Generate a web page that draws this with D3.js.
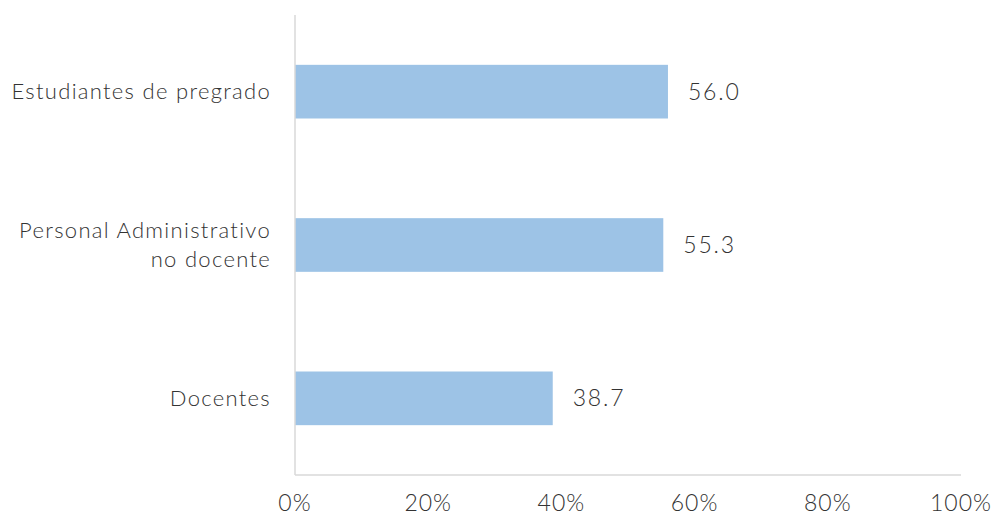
<!DOCTYPE html>
<html>
<head>
<meta charset="utf-8">
<script src="https://cdn.jsdelivr.net/npm/d3@7"></script>
<style>
  body { margin: 0; background: #fff; }
  text { font-family: Lato, "Open Sans", sans-serif; font-weight: 300; fill: #333; }
</style>
</head>
<body>
<svg id="chart" width="1001" height="516"></svg>
<script>
// data
const categories = [["Estudiantes de pregrado"], ["Personal Administrativo", "no docente"], ["Docentes"]];
const values = [56.0, 55.3, 38.7];
const ticks = [0, 20, 40, 60, 80, 100];

const margin = { top: 15, right: 40, bottom: 41, left: 295 };
const width = 1001, height = 516;

const svg = d3.select("#chart");

const x = d3.scaleLinear().domain([0, 100]).range([margin.left, 961]);
const y = d3.scaleBand()
    .domain(d3.range(values.length))
    .range([margin.top, height - margin.bottom])
    .paddingInner(0.65)
    .paddingOuter(0.325);

// bars
svg.selectAll("rect.bar")
    .data(values)
    .enter()
    .append("rect")
    .attr("class", "bar")
    .attr("x", x(0))
    .attr("y", (d, i) => y(i))
    .attr("width", d => x(d) - x(0))
    .attr("height", y.bandwidth())
    .attr("fill", "#9DC3E6");

// value labels
svg.selectAll("text.val")
    .data(values)
    .enter()
    .append("text")
    .attr("class", "val")
    .attr("x", d => x(d) + 20)
    .attr("y", (d, i) => y(i) + y.bandwidth() / 2)
    .attr("dy", "0.35em")
    .style("font-size", "23px")
    .style("letter-spacing", "1.8px")
    .text(d => d.toFixed(1));

// category labels
const cat = svg.selectAll("text.cat")
    .data(categories)
    .enter()
    .append("text")
    .attr("class", "cat")
    .attr("text-anchor", "end")
    .attr("x", margin.left - 24)
    .attr("y", (d, i) => y(i) + y.bandwidth() / 2)
    .style("font-size", "22px")
    .style("letter-spacing", "1.3px");

cat.selectAll("tspan")
    .data(d => d.map((t, j) => ({ t, j, n: d.length })))
    .enter()
    .append("tspan")
    .attr("x", margin.left - 24)
    .attr("dy", d => d.j === 0 ? `${0.35 - (d.n - 1) * 0.65}em` : "1.3em")
    .text(d => d.t);

// axes lines
svg.append("line")
    .attr("x1", x(0)).attr("x2", x(0))
    .attr("y1", margin.top).attr("y2", height - margin.bottom)
    .attr("stroke", "#d9d9d9").attr("stroke-width", 1.5);

svg.append("line")
    .attr("x1", x(0)).attr("x2", x(100))
    .attr("y1", height - margin.bottom).attr("y2", height - margin.bottom)
    .attr("stroke", "#d9d9d9").attr("stroke-width", 1.5);

// tick labels
svg.selectAll("text.tick")
    .data(ticks)
    .enter()
    .append("text")
    .attr("class", "tick")
    .attr("text-anchor", "middle")
    .attr("x", d => x(d))
    .attr("y", 503)
    .attr("dy", "0.35em")
    .style("font-size", "23px")
    .style("letter-spacing", "1px")
    .text(d => d + "%");
</script>
</body>
</html>
